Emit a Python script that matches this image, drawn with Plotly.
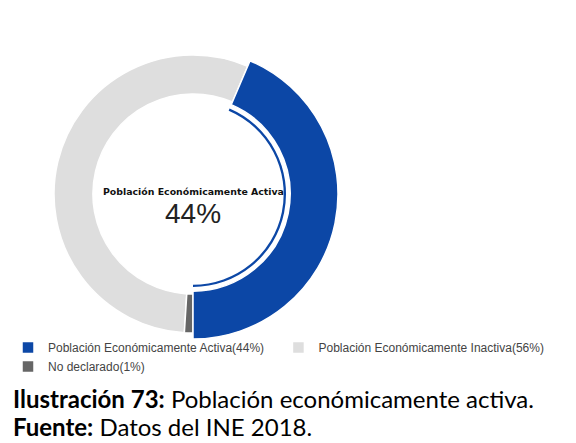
import plotly.graph_objects as go

labels = ["Población Económicamente Activa(44%)",
          "Población Económicamente Inactiva(56%)",
          "No declarado(1%)"]
values = [44, 56, 1]
colors = ["#0c47a6", "#dedede", "#666666"]
center_title = "Población Económicamente Activa"
center_value = "44%"
caption1 = "<b>Ilustración 73:</b> Población económicamente activa."
caption2 = "<b>Fuente:</b> Datos del INE 2018."

W, H = 576, 443
cx, cy = 185, 186  # pixel center of the donut

# first slice ends at 6 o'clock, drawn counterclockwise
rotation = 180 - values[0] / sum(values) * 360


def dom(r):
    return dict(x=[(cx - r) / W, (cx + r) / W], y=[1 - (cy + r) / H, 1 - (cy - r) / H])


fig = go.Figure()
# base ring (all slices, drives the legend)
fig.add_trace(go.Pie(
    labels=labels, values=values, sort=False, direction="counterclockwise",
    rotation=rotation, hole=0.72, textinfo="none",
    marker=dict(colors=colors, line=dict(color="white", width=1.5)),
    domain=dom(139), hoverinfo="label+percent",
))
# highlighted (enlarged) active slice
fig.add_trace(go.Pie(
    labels=labels, values=values, sort=False, direction="counterclockwise",
    rotation=rotation, hole=0.67, textinfo="none",
    marker=dict(colors=[colors[0], "rgba(0,0,0,0)", "rgba(0,0,0,0)"],
                line=dict(color=["white", "rgba(0,0,0,0)", "rgba(0,0,0,0)"], width=1.5)),
    domain=dom(145), showlegend=False, hoverinfo="skip",
))
# thin inner accent arc on the active slice
fig.add_trace(go.Pie(
    labels=labels, values=values, sort=False, direction="counterclockwise",
    rotation=rotation, hole=0.975, textinfo="none",
    marker=dict(colors=[colors[0], "rgba(0,0,0,0)", "rgba(0,0,0,0)"], line=dict(width=0)),
    domain=dom(93), showlegend=False, hoverinfo="skip",
))

fig.add_annotation(x=cx / W, y=1 - 183 / H, xref="paper", yref="paper",
                   xanchor="center", yanchor="middle",
                   text=f"<b>{center_title}</b>", showarrow=False,
                   font=dict(family="DejaVu Sans", size=9.4, color="#111"))
fig.add_annotation(x=cx / W, y=1 - 205 / H, xref="paper", yref="paper",
                   xanchor="center", yanchor="middle",
                   text=center_value, showarrow=False,
                   font=dict(family="Liberation Sans", size=28, color="#222"))
fig.add_annotation(x=3 / W, y=1 - 390 / H, xref="paper", yref="paper",
                   xanchor="left", yanchor="middle", text=caption1, showarrow=False,
                   font=dict(family="Lato", size=24, color="#000"))
fig.add_annotation(x=3 / W, y=1 - 418 / H, xref="paper", yref="paper",
                   xanchor="left", yanchor="middle", text=caption2, showarrow=False,
                   font=dict(family="Lato", size=24, color="#000"))

fig.update_layout(
    width=W, height=H, margin=dict(l=0, r=0, t=0, b=0, autoexpand=False),
    paper_bgcolor="white", plot_bgcolor="white",
    legend=dict(orientation="h", x=0, xanchor="left", y=1 - 325 / H, yanchor="top",
                font=dict(family="Liberation Sans", size=12, color="#444"),
                itemwidth=30, tracegroupgap=0, bgcolor="rgba(0,0,0,0)"),
)
fig.write_html("out.html")
